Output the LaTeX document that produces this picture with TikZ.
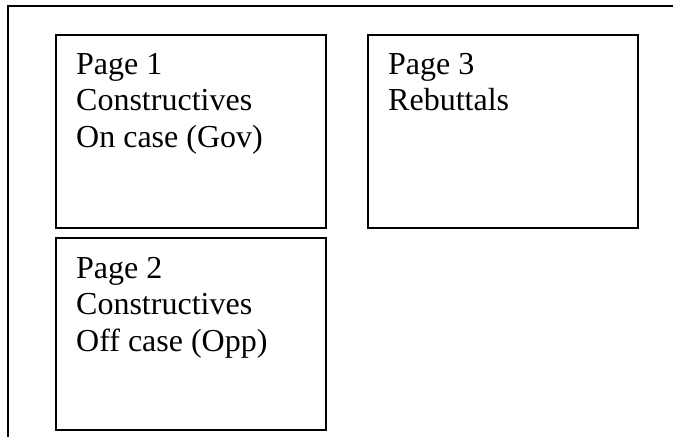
\documentclass[tikz,border=0pt]{standalone}
\usepackage{fontspec}
\setmainfont{Liberation Serif}
\usetikzlibrary{positioning}
\tikzset{
	pagebox/.style={draw, line width=1.6pt, anchor=north west, inner sep=0pt, minimum width=270pt, minimum height=193pt},
	pagetext/.style={anchor=north west, inner sep=0pt, align=left, font=\fontsize{32}{36.5}\selectfont}
}

\begin{document}
\begin{tikzpicture}[x=1pt, y=-1pt]
		%%%%% START %%%%%
		\useasboundingbox (0, 0) rectangle (673, 437);
		
		\draw[line width=1.6pt] (8, 437) -- (8, 6) -- (673, 6);
		
		\node[pagebox] (page1) at (55, 34) {};
		\node[pagebox] (page3) at (367, 34) {};
		\node[pagebox, minimum height=192pt] (page2) at (55, 237) {};
		
		\node[pagetext, below right=19pt and 21pt of page1.north west] (text1) {Page 1\\Constructives\\On case (Gov)};
		\node[pagetext, below right=19pt and 21pt of page3.north west] (text3) {Page 3\\Rebuttals};
		\node[pagetext, below right=20pt and 21pt of page2.north west] (text2) {Page 2\\Constructives\\Off case (Opp)};
		
		%%%%% END %%%%%
	\end{tikzpicture}
\end{document}
